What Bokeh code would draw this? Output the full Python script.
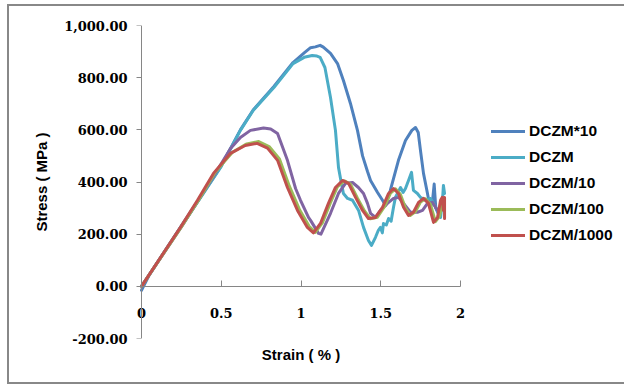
from bokeh.plotting import figure
from bokeh.models import Range1d, FixedTicker, NumeralTickFormatter, Legend, LegendItem, LinearAxis
from bokeh.embed import file_html
from bokeh.resources import INLINE

# ---- data ----
series_names = ["DCZM*10", "DCZM", "DCZM/10", "DCZM/100", "DCZM/1000"]
series_colors = ["#4F81BD", "#4BACC6", "#8064A2", "#9BBB59", "#C0504D"]

x_dczm10 = [0, 0.05, 0.25, 0.5, 0.62, 0.70, 0.83, 0.95, 1.02, 1.06, 1.09, 1.12, 1.14, 1.185, 1.229,
            1.266, 1.31, 1.354, 1.386, 1.417, 1.436, 1.48, 1.511, 1.53, 1.56, 1.611, 1.655, 1.695,
            1.718, 1.735, 1.749, 1.768, 1.793, 1.81, 1.825, 1.835, 1.845, 1.86]
y_dczm10 = [-15, 45, 232, 462, 600, 676, 766, 858, 895, 915, 918, 924, 917, 893, 854,
            789, 701, 598, 500, 440, 406, 360, 330, 310, 368, 483, 559, 598,
            609, 590, 521, 433, 356, 300, 330, 392, 300, 280]

x_dczm = [0, 0.25, 0.5, 0.62, 0.70, 0.83, 0.95, 1.02, 1.07, 1.10, 1.12, 1.15, 1.185, 1.216, 1.235,
          1.25, 1.266, 1.292, 1.323, 1.361, 1.392, 1.423, 1.442, 1.467, 1.485, 1.498, 1.51, 1.517,
          1.535, 1.549, 1.565, 1.58, 1.592, 1.624, 1.64, 1.655, 1.674, 1.693, 1.705, 1.73, 1.749,
          1.781, 1.812, 1.831, 1.856, 1.875, 1.887, 1.893, 1.9]
y_dczm = [0, 230, 460, 598, 674, 762, 854, 878, 885, 883, 878, 839, 724, 598, 456,
          406, 356, 337, 330, 291, 226, 176, 157, 188, 215, 226, 205, 241,
          235, 260, 250, 303, 341, 379, 360, 375, 406, 437, 368, 356, 341,
          330, 337, 318, 291, 264, 330, 387, 356]

x_dczm_10 = [0, 0.25, 0.45, 0.558, 0.62, 0.683, 0.765, 0.81, 0.853, 0.915, 0.966, 0.997, 1.047,
             1.06, 1.11, 1.125, 1.185, 1.235, 1.279, 1.323, 1.36, 1.392, 1.417, 1.436, 1.467,
             1.498, 1.542, 1.58, 1.611, 1.643, 1.686, 1.73, 1.762, 1.793, 1.824, 1.856, 1.887]
y_dczm_10 = [0, 228, 420, 528, 571, 598, 607, 603, 586, 483, 375, 330, 264,
             253, 203, 200, 280, 356, 395, 398, 379, 356, 318, 280, 264,
             291, 318, 337, 341, 318, 284, 284, 291, 318, 322, 291, 299]

x_dczm_100 = [0, 0.25, 0.36, 0.46, 0.57, 0.66, 0.735, 0.80, 0.865, 0.927, 0.99, 1.052, 1.09, 1.134,
              1.184, 1.228, 1.272, 1.31, 1.354, 1.398, 1.435, 1.479, 1.523, 1.561, 1.592, 1.623,
              1.655, 1.686, 1.717, 1.749, 1.78, 1.811, 1.843, 1.868, 1.887]
y_dczm_100 = [0, 228, 333, 436, 514, 546, 555, 536, 488, 384, 295, 229, 207, 243,
              320, 381, 404, 392, 338, 289, 259, 265, 305, 357, 374, 353,
              300, 272, 286, 323, 336, 315, 248, 268, 320]

x_dczm_1000 = [0, 0.245, 0.351, 0.451, 0.558, 0.65, 0.725, 0.79, 0.853, 0.915, 0.978, 1.04, 1.078,
               1.122, 1.172, 1.216, 1.26, 1.298, 1.342, 1.386, 1.423, 1.467, 1.511, 1.549, 1.58,
               1.611, 1.643, 1.674, 1.705, 1.737, 1.768, 1.799, 1.831, 1.856, 1.875, 1.885, 1.893,
               1.9, 1.9]
y_dczm_1000 = [0, 227, 330, 433, 510, 540, 548, 530, 483, 379, 291, 226, 205,
               241, 318, 379, 406, 395, 341, 291, 260, 264, 303, 356, 375,
               356, 303, 272, 284, 322, 337, 318, 245, 264, 330, 341, 291,
               341, 260]

series_x = [x_dczm10, x_dczm, x_dczm_10, x_dczm_100, x_dczm_1000]
series_y = [y_dczm10, y_dczm, y_dczm_10, y_dczm_100, y_dczm_1000]

x_ticks = [0, 0.5, 1, 1.5, 2]
y_ticks = [-200, 0, 200, 400, 600, 800, 1000]

# ---- figure ----
pad = 10 / 159.5   # a little room either side so the end tick labels are not clipped
p = figure(frame_width=339, frame_height=313,
           x_range=Range1d(0 - pad, 2 + pad), y_range=Range1d(-200, 1000),
           output_backend="svg", toolbar_location=None,
           min_border_left=122, min_border_top=19, min_border_right=152, min_border_bottom=44)
p.styles = {"margin-left": "7px", "margin-top": "4px",
            "border-left": "2px solid #888888", "border-top": "2px solid #888888",
            "border-bottom": "2px solid #888888"}
p.outline_line_color = None
p.xgrid.visible = False
p.ygrid.visible = False
p.background_fill_color = "white"
p.border_fill_color = "white"

axis_col = "#868686"
label_font = "DejaVu Serif"
title_font = "Liberation Sans"

# y labels (normal left axis, no line/ticks)
ya = p.yaxis[0]
ya.ticker = FixedTicker(ticks=y_ticks)
ya.formatter = NumeralTickFormatter(format="0,0.00")
ya.axis_line_color = None
ya.major_tick_line_color = None
ya.minor_tick_line_color = None
ya.major_tick_out = 0
ya.major_tick_in = 0
ya.major_label_text_font = label_font
ya.major_label_text_font_style = "bold"
ya.major_label_text_font_size = "13px"
ya.major_label_text_color = "black"
ya.major_label_standoff = 4
ya.axis_label = "Stress ( MPa )"
ya.axis_label_text_font = title_font
ya.axis_label_text_font_style = "bold"
ya.axis_label_text_font_size = "15px"
ya.axis_label_text_color = "black"
ya.axis_label_standoff = 11

# y axis line + ticks at x = 0
ya2 = LinearAxis(fixed_location=0, ticker=FixedTicker(ticks=y_ticks),
                 major_label_overrides={t: "" for t in y_ticks},
                 axis_line_color=axis_col, major_tick_line_color=axis_col,
                 minor_tick_line_color=None, major_tick_out=5, major_tick_in=0)
p.add_layout(ya2, "left")

# x axis crossing at y = 0
xa = p.xaxis[0]
xa.fixed_location = 0
xa.bounds = (0, 2)
xa.ticker = FixedTicker(ticks=x_ticks)
xa.formatter = NumeralTickFormatter(format="0.[0]")
xa.axis_line_color = axis_col
xa.major_tick_line_color = axis_col
xa.major_tick_out = 0
xa.major_tick_in = 6
xa.minor_tick_line_color = None
xa.major_label_text_font = label_font
xa.major_label_text_font_style = "bold"
xa.major_label_text_font_size = "13px"
xa.major_label_text_color = "black"
xa.major_label_standoff = 22

# x axis title below the plot area
xt = LinearAxis(ticker=FixedTicker(ticks=[]), axis_line_color=None,
                major_tick_line_color=None, minor_tick_line_color=None,
                axis_label="Strain ( % )", axis_label_text_font=title_font,
                axis_label_text_font_style="bold", axis_label_text_font_size="15px",
                axis_label_text_color="black", axis_label_standoff=7)
p.add_layout(xt, "below")

items = []
for name, col, xs, ys in zip(series_names, series_colors, series_x, series_y):
    r = p.line(xs, ys, line_color=col, line_width=3, line_join="round", line_cap="round")
    items.append(LegendItem(label=name, renderers=[r]))

legend = Legend(items=items, location=(21, 94), orientation="vertical",
                border_line_color=None, background_fill_alpha=0,
                padding=0, margin=0, spacing=8,
                glyph_width=34, glyph_height=16, label_height=16, label_standoff=4,
                label_text_font=title_font, label_text_font_style="bold",
                label_text_font_size="15.5px", label_text_color="black")
p.add_layout(legend, "right")

open("out.html", "w").write(file_html(p, INLINE))
